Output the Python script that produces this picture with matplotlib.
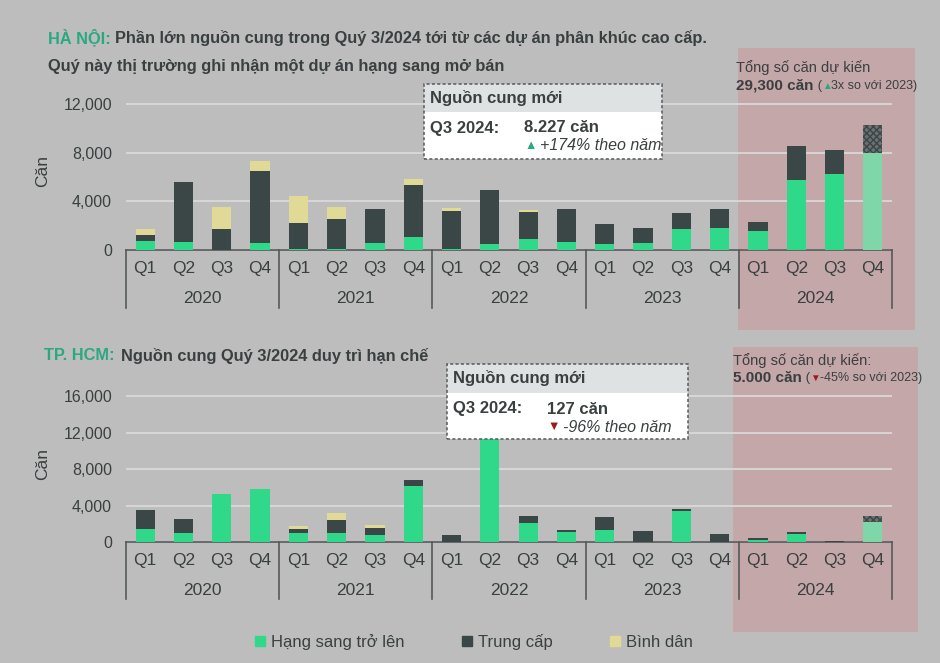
import numpy as np
import matplotlib.pyplot as plt
from matplotlib.patches import Rectangle
from matplotlib.transforms import blended_transform_factory

plt.rcParams['font.family'] = ['Liberation Sans', 'DejaVu Sans']

# --- data ---
years = ['2020', '2021', '2022', '2023', '2024']
quarters = ['Q1', 'Q2', 'Q3', 'Q4'] * 5

# Ha Noi (units), 2024 Q4 is forecast
hn_sang = [750, 650, 0, 600, 100, 100, 600, 1100, 100, 500, 930, 630,
           520, 600, 1730, 1840, 1590, 5740, 6290, 0]
hn_trung = [490, 4930, 1760, 5860, 2130, 2450, 2780, 4280, 3140, 4420, 2200, 2720,
            1600, 1190, 1290, 1540, 750, 2780, 1950, 0]
hn_binh = [460, 0, 1780, 880, 2250, 990, 0, 440, 250, 0, 170, 0,
           0, 0, 0, 0, 0, 0, 0, 0]
hn_fc_sang = 7940
hn_fc_trung = 2360

# TP. HCM (units)
hcm_sang = [1460, 1020, 5220, 5840, 990, 1020, 730, 6130, 0, 12600, 2080, 1130,
            1350, 0, 3360, 0, 260, 880, 0, 0]
hcm_trung = [2080, 1460, 0, 0, 400, 1430, 800, 690, 800, 0, 730, 150,
             1420, 1170, 220, 910, 180, 220, 127, 0]
hcm_binh = [0, 0, 0, 0, 330, 760, 290, 0, 0, 0, 0, 0,
            0, 0, 0, 0, 0, 0, 0, 0]
hcm_fc_sang = 2190
hcm_fc_trung = 660

labels = ['Hạng sang trở lên', 'Trung cấp', 'Bình dân']

# --- colours ---
BG = '#bdbdbd'
GREEN = '#30d98a'
DARK = '#3b4647'
YELLOW = '#e1d996'
LIGHTGREEN = '#7fd6a9'
TEAL = '#2aa880'
RED = '#a01818'
TXT = '#3a3f40'
PINK = '#c4a7a8'

fig = plt.figure(figsize=(9.4, 6.63), dpi=100)
fig.patch.set_facecolor(BG)

W, H = 940, 663


def fx(px):
    return px / W


def fy(py):
    return 1 - py / H


# shaded 2024 boxes
fig.add_artist(Rectangle((fx(738), fy(330)), fx(915) - fx(738), fy(48) - fy(330),
                         transform=fig.transFigure, color=PINK, zorder=0, lw=0))
fig.add_artist(Rectangle((fx(733), fy(632)), fx(918) - fx(733), fy(347) - fy(632),
                         transform=fig.transFigure, color=PINK, zorder=0, lw=0))


def draw_panel(ax, sang, trung, binh, fc_sang, fc_trung, ymax, yticks):
    x = np.arange(20)
    sang = np.array(sang)
    trung = np.array(trung)
    binh = np.array(binh)
    w = 0.5
    ax.bar(x, sang, w, color=GREEN, zorder=3)
    ax.bar(x, trung, w, bottom=sang, color=DARK, zorder=3)
    ax.bar(x, binh, w, bottom=sang + trung, color=YELLOW, zorder=3)
    # forecast Q4 2024
    ax.bar(19, fc_sang, w, color=LIGHTGREEN, zorder=3)
    ax.bar(19, fc_trung, w, bottom=fc_sang, color='#6b7070', hatch='xxxxx',
           edgecolor=DARK, lw=0, zorder=3)

    ax.set_facecolor('none')
    ax.set_xlim(-0.5, 19.5)
    ax.set_ylim(0, ymax)
    ax.set_yticks(yticks)
    ax.set_yticklabels([f'{v:,}' for v in yticks])
    ax.yaxis.grid(True, color='#dcdcdc', lw=1.2, zorder=0)
    ax.set_axisbelow(True)
    for s in ['top', 'right', 'left']:
        ax.spines[s].set_visible(False)
    ax.spines['bottom'].set_color('#555a5a')
    ax.spines['bottom'].set_linewidth(1.2)
    ax.tick_params(axis='y', length=0, labelsize=11.5, labelcolor=TXT, pad=10)
    ax.tick_params(axis='x', length=0, labelsize=12.5, labelcolor=TXT, pad=8)
    ax.set_xticks(x)
    ax.set_xticklabels(quarters)
    ax.set_ylabel('Căn', fontsize=12.5, color=TXT)
    ax.yaxis.set_label_coords(-0.099, 0.5)

    tr = blended_transform_factory(ax.transData, ax.transAxes)
    for i, yr in enumerate(years):
        ax.text(i * 4 + 1.5, -0.31, yr, transform=tr, ha='center', va='center',
                fontsize=12.5, color=TXT)
    for b in [-0.5, 3.5, 7.5, 11.5, 15.5, 19.5]:
        ax.plot([b, b], [0, -0.37], transform=tr, color='#555a5a', lw=1.2,
                clip_on=False)


def info_box(x0, y0, x1, y1, hy, value, pct, up):
    # header grey part and white part, dashed border
    fig.add_artist(Rectangle((fx(x0), fy(hy)), fx(x1) - fx(x0), fy(y0) - fy(hy),
                             transform=fig.transFigure, color='#dfe2e3', lw=0, zorder=5))
    fig.add_artist(Rectangle((fx(x0), fy(y1)), fx(x1) - fx(x0), fy(hy) - fy(y1),
                             transform=fig.transFigure, color='white', lw=0, zorder=5))
    fig.add_artist(Rectangle((fx(x0), fy(y1)), fx(x1) - fx(x0), fy(y0) - fy(y1),
                             transform=fig.transFigure, fill=False, ec='#555a5a',
                             ls=(0, (2, 1.5)), lw=1.1, zorder=6))
    fig.text(fx(x0 + 6), fy((y0 + hy) / 2), 'Nguồn cung mới', fontsize=12,
             weight='bold', color=TXT, va='center', zorder=7)
    fig.text(fx(x0 + 6), fy(hy + 16), 'Q3 2024:', fontsize=12, weight='bold',
             color=TXT, va='center', zorder=7)
    fig.text(fx(x0 + 100), fy(hy + 16), value, fontsize=12, weight='bold',
             color=TXT, va='center', zorder=7)
    fig.text(fx(x0 + 100), fy(hy + 34), '▲' if up else '▼', fontsize=9,
             color=TEAL if up else RED, va='center', zorder=7)
    fig.text(fx(x0 + 116), fy(hy + 34), pct, fontsize=11.5, style='italic',
             color=TXT, va='center', zorder=7)


def total_note(x, y1, y2, line1, total, arrow, arrow_color, rest):
    # "total (arrow rest" written as a chain of texts, each after the previous
    fig.text(fx(x), fy(y1), line1, color=TXT, fontsize=10.5, va='center')
    t = fig.text(fx(x), fy(y2), total, color=TXT, fontsize=11, weight='bold', va='center')
    t = fig.add_artist(plt.Annotation(' (', xy=(1, 0.5), xycoords=t, xytext=(0, 0),
                                      textcoords='offset points', va='center',
                                      color=TXT, fontsize=9.5))
    t = fig.add_artist(plt.Annotation(arrow, xy=(1, 0.5), xycoords=t, xytext=(0, 0),
                                      textcoords='offset points', va='center',
                                      color=arrow_color, fontsize=7))
    fig.add_artist(plt.Annotation(rest, xy=(1, 0.5), xycoords=t, xytext=(0, 0),
                                  textcoords='offset points', va='center',
                                  color=TXT, fontsize=9))


# --- Ha Noi panel ---
ax1 = fig.add_axes([fx(126), fy(250), fx(892) - fx(126), fy(92) - fy(250)])
draw_panel(ax1, hn_sang, hn_trung, hn_binh, hn_fc_sang, hn_fc_trung,
           13000, [0, 4000, 8000, 12000])

fig.text(fx(48), fy(38), 'HÀ NỘI:', color=TEAL, fontsize=11.8, weight='bold', va='center')
fig.text(fx(115), fy(38), 'Phần lớn nguồn cung trong Quý 3/2024 tới từ các dự án phân khúc cao cấp.',
         color=TXT, fontsize=11.8, weight='bold', va='center')
fig.text(fx(48), fy(66), 'Quý này thị trường ghi nhận một dự án hạng sang mở bán',
         color=TXT, fontsize=11.8, weight='bold', va='center')
total_note(736, 68, 86, 'Tổng số căn dự kiến', '29,300 căn', '▲', TEAL, '3x so với 2023)')

info_box(424, 84, 662, 159, 112, '8.227 căn', '+174% theo năm', True)

# --- TP. HCM panel ---
ax2 = fig.add_axes([fx(126), fy(542), fx(892) - fx(126), fy(387) - fy(542)])
draw_panel(ax2, hcm_sang, hcm_trung, hcm_binh, hcm_fc_sang, hcm_fc_trung,
           17000, [0, 4000, 8000, 12000, 16000])

fig.text(fx(44), fy(356), 'TP. HCM:', color=TEAL, fontsize=11.8, weight='bold', va='center')
fig.text(fx(121), fy(356), 'Nguồn cung Quý 3/2024 duy trì hạn chế',
         color=TXT, fontsize=11.8, weight='bold', va='center')
total_note(733, 361, 378, 'Tổng số căn dự kiến:', '5.000 căn', '▼', RED, '-45% so với 2023)')

info_box(447, 364, 688, 439, 393, '127 căn', '-96% theo năm', False)

# --- legend ---
handles = [Rectangle((0, 0), 1, 1, color=c) for c in [GREEN, DARK, YELLOW]]
fig.legend(handles, labels, loc='center', bbox_to_anchor=(fx(474), fy(642)),
           ncol=3, frameon=False, fontsize=12, labelcolor=TXT,
           handlelength=0.6, handleheight=0.6, handletextpad=0.4, columnspacing=3.4)

plt.savefig('out.png', dpi=100, facecolor=BG)
